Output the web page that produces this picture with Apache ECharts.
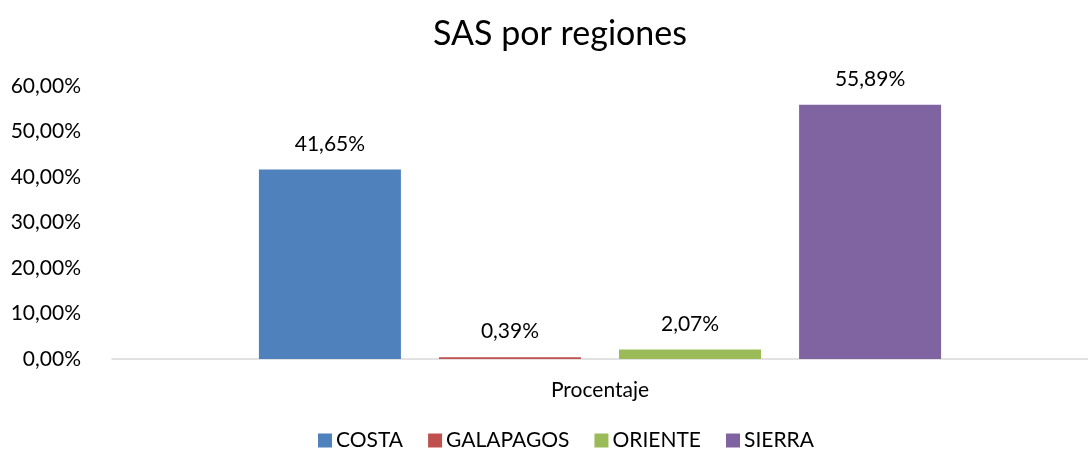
<!DOCTYPE html>
<html>
<head>
<meta charset="utf-8">
<script src="https://cdn.jsdelivr.net/npm/echarts@6/dist/echarts.min.js"></script>
<style>html,body{margin:0;padding:0;background:#fff}#c{width:1088px;height:454px}</style>
</head>
<body>
<div id="c"></div>
<script>
const categories = ['Procentaje'];
const seriesNames = ['COSTA', 'GALAPAGOS', 'ORIENTE', 'SIERRA'];
const seriesValues = [[41.65], [0.39], [2.07], [55.89]];
const seriesColors = ['#4F81BD', '#C0504D', '#9BBB59', '#8064A2'];
const yTicks = [0, 10, 20, 30, 40, 50, 60];

const FONT = 'Lato';
const fmt = v => v.toFixed(2).replace('.', ',') + '%';

const chart = echarts.init(document.getElementById('c'), null, {renderer: 'canvas'});
chart.setOption({
  animation: false,
  title: {
    text: 'SAS por regiones', left: 428, top: 12,
    textStyle: {fontFamily: FONT, fontSize: 34, fontWeight: 'normal', color: '#000'}
  },
  legend: {
    data: seriesNames, top: 425, left: 313, itemWidth: 14, itemHeight: 14, itemGap: 25,
    icon: 'rect',
    textStyle: {fontFamily: FONT, fontSize: 21, color: '#000', padding: [0, 0, 0, -1]}
  },
  grid: {left: 112, right: 0, top: 86, bottom: 95, containLabel: false},
  xAxis: {
    type: 'category', data: categories,
    axisLine: {lineStyle: {color: '#d9d9d9', width: 1.5}},
    axisTick: {show: false},
    axisLabel: {fontFamily: FONT, fontSize: 21, color: '#000', margin: 21}
  },
  yAxis: {
    type: 'value', min: yTicks[0], max: yTicks[yTicks.length - 1], interval: 10,
    splitLine: {show: false},
    axisLine: {show: false}, axisTick: {show: false},
    axisLabel: {fontFamily: FONT, fontSize: 21, color: '#000', margin: 31, formatter: v => fmt(v)}
  },
  series: seriesNames.map((n, i) => ({
    name: n, type: 'bar', data: seriesValues[i],
    barWidth: 142, barGap: '26.8%',
    itemStyle: {color: seriesColors[i]},
    label: {show: true, position: 'top', distance: 15, fontFamily: FONT, fontSize: 21, color: '#000',
      formatter: p => fmt(p.value)}
  }))
});
</script>
</body>
</html>
